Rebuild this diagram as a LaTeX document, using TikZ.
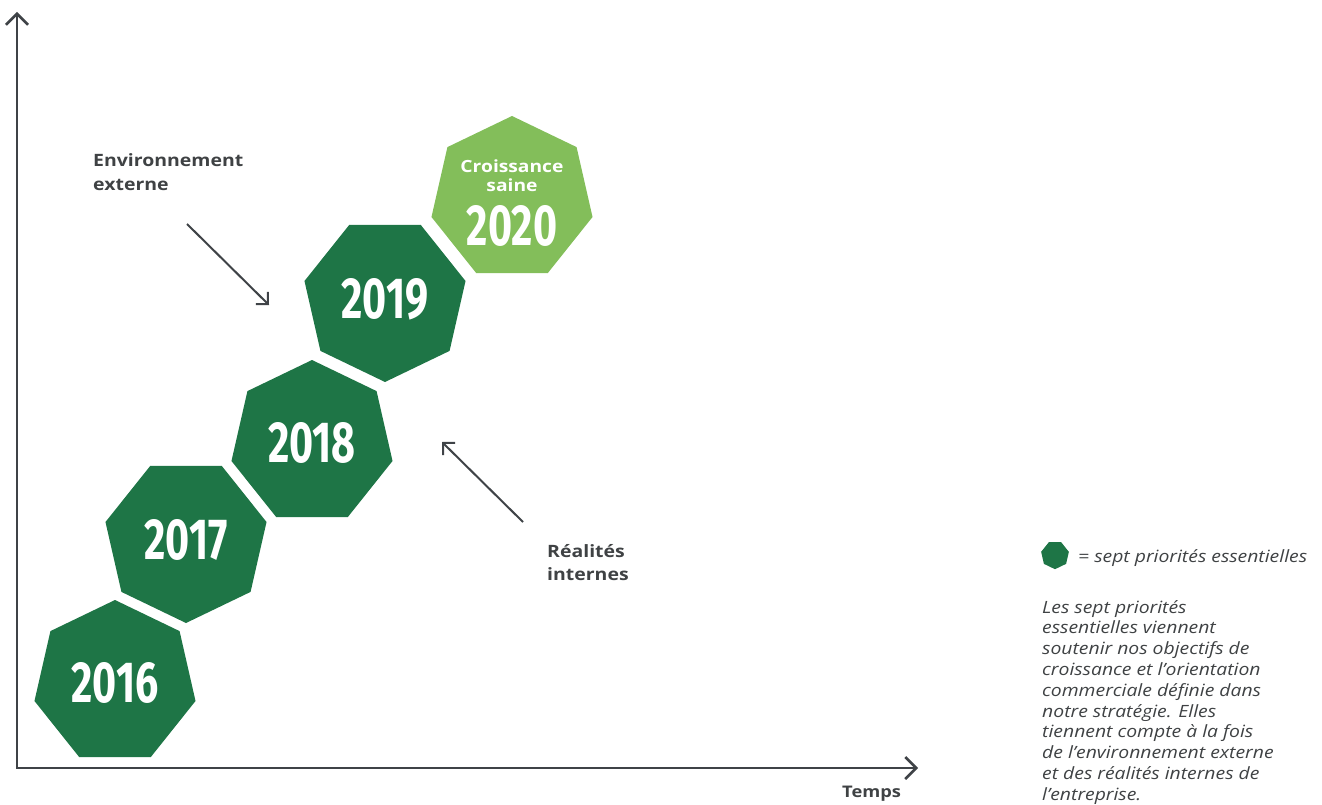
\documentclass[tikz,border=0pt]{standalone}
\usepackage{fontspec}
\setmainfont{Open Sans}[FakeStretch=1.145]
\newfontfamily\yearfont{Fira Sans}
\usetikzlibrary{arrows.meta,shapes.geometric}
\definecolor{dkgreen}{HTML}{1E7546}
\definecolor{ltgreen}{HTML}{83BE5A}
\definecolor{axisgray}{HTML}{3F4347}
\definecolor{txtgray}{HTML}{3F4244}
\begin{document}
\begin{tikzpicture}[x=1pt,y=-1pt,
  hepta/.style={regular polygon, regular polygon sides=7, minimum size=165.2pt, inner sep=0pt, outer sep=0pt, draw=none},
  flipped/.style={shape border rotate=180},
  yeartxt/.style={text=white, font=\yearfont\bfseries\fontsize{58}{58}\selectfont, inner sep=0pt},
  smalltxt/.style={text=white, font=\bfseries\fontsize{16.8}{16.8}\selectfont, inner sep=0pt, anchor=base},
  lbl/.style={text=txtgray, font=\bfseries\fontsize{17}{23.5}\selectfont, inner sep=0pt, anchor=base west},
  para/.style={text=txtgray, font=\itshape\fontsize{16.9}{20.8}\selectfont, inner sep=0pt, anchor=base west},
  axisline/.style={draw=axisgray, line width=2.5pt, line join=miter},
  diag/.style={draw=axisgray, line width=2pt, -{Straight Barb[length=8.5pt,width=17pt]}}
]
\useasboundingbox (0,0) rectangle (1322,805);

% axes
\coordinate (Ytop) at (17,12);
\coordinate (O) at (17,768);
\coordinate (Xend) at (918,768);
\draw[axisline, {Straight Barb[length=11pt,width=22pt]}-{Straight Barb[length=11pt,width=22pt]}] (Ytop) -- (O) -- (Xend);

% heptagons
\node[hepta, fill=dkgreen] (h16) at (115,682.6) {};
\node[hepta, flipped, fill=dkgreen] (h17) at (186,540.4) {};
\node[hepta, fill=dkgreen] (h18) at (312,442.6) {};
\node[hepta, flipped, fill=dkgreen] (h19) at (385,299.4) {};
\node[hepta, fill=ltgreen] (h20) at (512,198.6) {};

\node[yeartxt] (t16) at (h16.center) {\scalebox{0.71}[1]{2016}};
\node[yeartxt] (t17) at (h17.center) {\scalebox{0.71}[1]{2017}};
\node[yeartxt] (t18) at (h18.center) {\scalebox{0.71}[1]{2018}};
\node[yeartxt] (t19) at (h19.center) {\scalebox{0.71}[1]{2019}};
\node[yeartxt] (t20) at (512,225.7) {\scalebox{0.71}[1]{2020}};
\node[smalltxt] (t20a) at (512,172.5) {Croissance};
\node[smalltxt] (t20b) at (512,191.5) {saine};

% labels and arrows
\node[lbl] (env) at (93,167) {\parbox[t]{200pt}{\raggedright Environnement\\externe}};
\node[lbl] (rea) at (547,557) {\parbox[t]{200pt}{\raggedright Réalités\\internes}};
\node[lbl, font=\bfseries\fontsize{16}{16}\selectfont] (temps) at (842,797) {Temps};

\coordinate (e1) at (187,224);
\coordinate (e2) at (269,305);
\draw[diag] (e1) -- (e2);
\coordinate (r1) at (523,522);
\coordinate (r2) at (442,442);
\draw[diag] (r1) -- (r2);

% legend
\node[regular polygon, regular polygon sides=7, minimum size=28.4pt, inner sep=0pt, shape border rotate=180, fill=dkgreen] (leg) at (1055,555) {};
\node[para] (legtxt) at (1078,562) {= sept priorités essentielles};
\node[para] (desc) at (1042,613) {\parbox[t]{280pt}{\raggedright Les sept priorités\\
essentielles viennent\\
soutenir nos objectifs de\\
croissance et l’orientation\\
commerciale définie dans\\
notre stratégie. Elles\\
tiennent compte à la fois\\
de l’environnement externe\\
et des réalités internes de\\
l’entreprise.}};
\end{tikzpicture}
\end{document}
